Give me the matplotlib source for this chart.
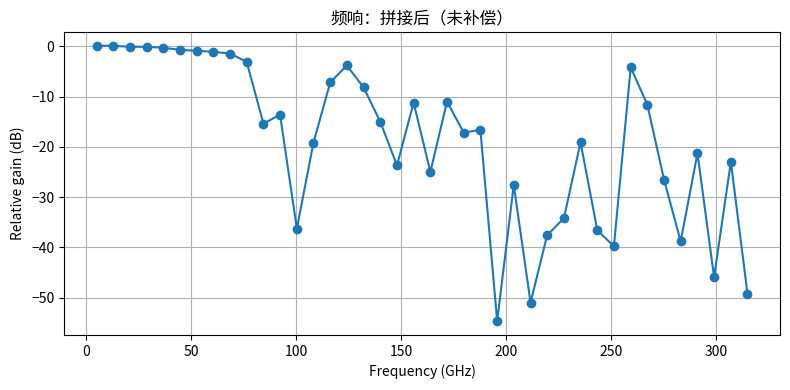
import matplotlib
matplotlib.use("Agg")
import matplotlib.pyplot as plt

plt.rcParams['font.family'] = ['Noto Sans CJK SC', 'DejaVu Sans']

freq_ghz = [5.0, 12.9, 20.9, 28.8, 36.8, 44.7, 52.7, 60.6, 68.6, 76.5,
            84.5, 92.4, 100.4, 108.3, 116.3, 124.2, 132.2, 140.1, 148.1, 156.0,
            164.0, 171.9, 179.9, 187.8, 195.8, 203.7, 211.7, 219.6, 227.6, 235.5,
            243.5, 251.4, 259.4, 267.3, 275.3, 283.2, 291.2, 299.1, 307.1, 315.0]
gain_db = [0.1, 0.1, -0.1, -0.1, -0.3, -0.7, -0.9, -1.1, -1.45, -3.1,
           -15.4, -13.6, -36.3, -19.2, -7.2, -3.8, -8.2, -15.0, -23.7, -11.2,
           -25.0, -11.0, -17.2, -16.6, -54.7, -27.6, -51.0, -37.6, -34.2, -19.1,
           -36.6, -39.8, -4.2, -11.6, -26.6, -38.8, -21.3, -45.9, -23.0, -49.2]

title = "频响：拼接后（未补偿）"
xlabel = "Frequency (GHz)"
ylabel = "Relative gain (dB)"

fig = plt.figure(figsize=(7.9, 3.9), dpi=100)
ax = fig.add_axes([64/790, 1-335/390, (780-64)/790, (335-32)/390])
ax.plot(freq_ghz, gain_db, color='#1f77b4', marker='o', markersize=6, linewidth=1.5)
ax.grid(True, color='#b0b0b0', linewidth=0.8)
ax.set_axisbelow(True)
ax.set_title(title, fontsize=12)
ax.set_xlabel(xlabel, fontsize=10)
ax.set_ylabel(ylabel, fontsize=10)
ax.tick_params(labelsize=10)
fig.savefig("out.png", dpi=100)
